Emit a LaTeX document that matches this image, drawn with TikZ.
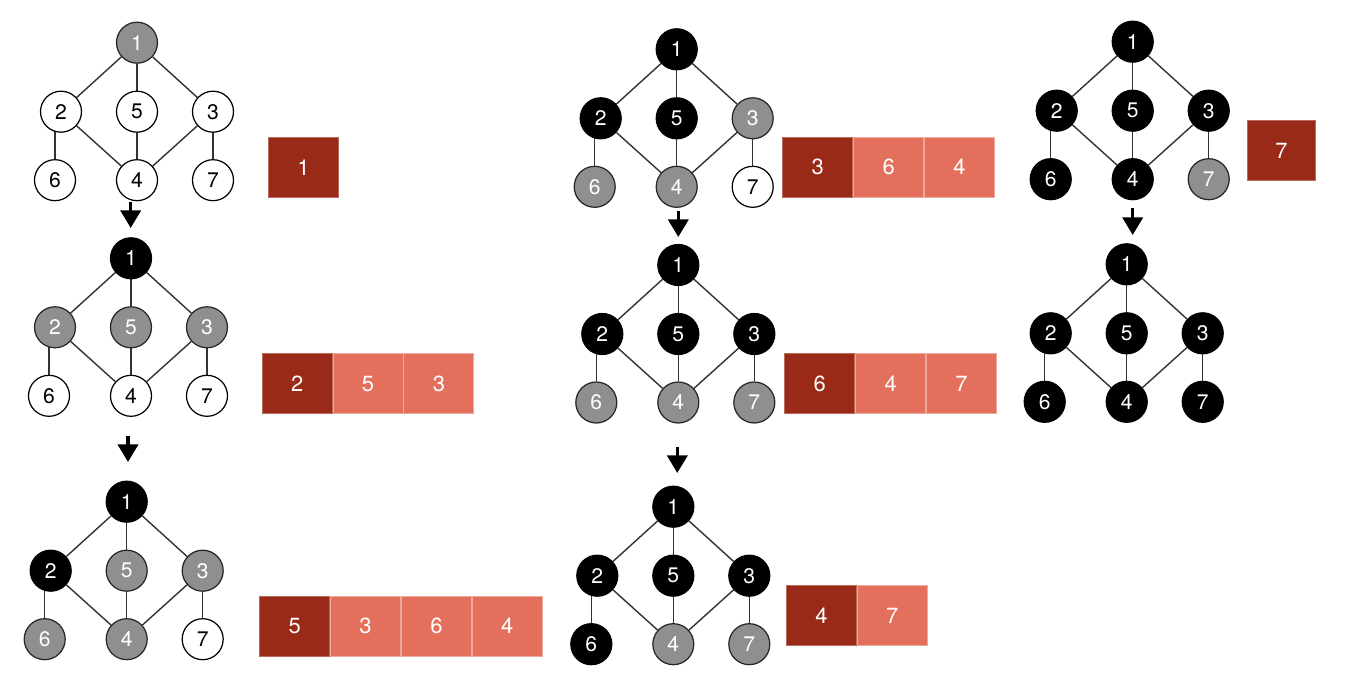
\documentclass[tikz,border=0pt]{standalone}
\usepackage{fontspec}
\setmainfont{TeX Gyre Heros}
\usetikzlibrary{arrows.meta,backgrounds}
\definecolor{qdark}{HTML}{9A2A18}
\definecolor{qlight}{HTML}{E2705C}
\definecolor{vgray}{HTML}{8F8F8F}
\definecolor{edgec}{HTML}{333333}
\tikzset{
  vtx/.style={circle, minimum size=0.82cm, inner sep=0pt, line width=0.7pt, font=\fontsize{12}{12}\selectfont},
  wn/.style={vtx, draw=black, fill=white, text=black},
  gn/.style={vtx, draw=black!85, fill=vgray, text=white},
  bn/.style={vtx, draw=black, fill=black, text=white},
  edge/.style={draw=edgec, line width=0.8pt},
  qbox/.style={rectangle, minimum width=1.4cm, minimum height=1.2cm, inner sep=0pt, line width=0.5pt, text=white, font=\fontsize{12.5}{12.5}\selectfont},
  qd/.style={qbox, fill=qdark, draw=qdark!70!white},
  ql/.style={qbox, fill=qlight, draw=qlight!60!white},
  arr/.style={line width=2pt, -{Triangle[width=11.4pt,length=10pt]}}
}
\newcommand\drawgraph[9]{%
  \begin{scope}[shift={#2}]
    \node[#3] (#1-1) at (0,0) {1};
    \node[#4] (#1-2) at (-76,69) {2};
    \node[#5] (#1-3) at (76,69) {3};
    \node[#6] (#1-4) at (0,137.5) {4};
    \node[#7] (#1-5) at (0,69) {5};
    \node[#8] (#1-6) at (-82,137.5) {6};
    \node[#9] (#1-7) at (76,137.5) {7};
    \begin{pgfonlayer}{background}
      \draw[edge] (#1-1) -- (#1-2);
      \draw[edge] (#1-1) -- (#1-5);
      \draw[edge] (#1-1) -- (#1-3);
      \draw[edge] (#1-2) -- (#1-4);
      \draw[edge] (#1-5) -- (#1-4);
      \draw[edge] (#1-3) -- (#1-4);
      \draw[edge] (#1-6.north) -- (#1-6.north |- #1-2.center);
      \draw[edge] (#1-7.north) -- (#1-7.north |- #1-3.center);
    \end{pgfonlayer}
  \end{scope}}
\begin{document}
\begin{tikzpicture}[x=0.02cm,y=-0.02cm]
\useasboundingbox (0,0) rectangle (1354,688);
% left column
\drawgraph{g1}{(137,42.7)}{gn}{wn}{wn}{wn}{wn}{wn}{wn}
\drawgraph{g2}{(131,258.3)}{bn}{gn}{gn}{wn}{gn}{wn}{wn}
\drawgraph{g3}{(126.7,501.7)}{bn}{bn}{gn}{gn}{gn}{gn}{wn}
% middle column
\drawgraph{ga}{(676.7,49.3)}{bn}{bn}{gn}{gn}{bn}{gn}{wn}
\drawgraph{gb}{(678.3,265)}{bn}{bn}{bn}{gn}{bn}{gn}{gn}
\drawgraph{gc}{(673.3,506.7)}{bn}{bn}{bn}{gn}{bn}{bn}{gn}
% right column
\drawgraph{gr}{(1132.7,41.7)}{bn}{bn}{bn}{bn}{bn}{bn}{gn}
\drawgraph{gs}{(1126.7,264.3)}{bn}{bn}{bn}{bn}{bn}{bn}{bn}
% queues
\node[qd, anchor=north west] (q1a) at (268,137) {1};
\node[qd, anchor=north west] (q2a) at (261.7,353.3) {2};
\node[ql, anchor=west] (q2b) at (q2a.east) {5};
\node[ql, anchor=west] (q2c) at (q2b.east) {3};
\node[qd, anchor=north west] (q3a) at (259.3,595.7) {5};
\node[ql, anchor=west] (q3b) at (q3a.east) {3};
\node[ql, anchor=west] (q3c) at (q3b.east) {6};
\node[ql, anchor=west] (q3d) at (q3c.east) {4};
\node[qd, anchor=north west] (qaa) at (782.3,136.7) {3};
\node[ql, anchor=west] (qab) at (qaa.east) {6};
\node[ql, anchor=west] (qac) at (qab.east) {4};
\node[qd, anchor=north west] (qba) at (784.3,353.3) {6};
\node[ql, anchor=west] (qbb) at (qba.east) {4};
\node[ql, anchor=west] (qbc) at (qbb.east) {7};
\node[qd, anchor=north west] (qca) at (786,585) {4};
\node[ql, anchor=west] (qcb) at (qca.east) {7};
\node[qd, anchor=north west, minimum width=1.37cm] (qra) at (1246.7,120) {7};
% arrows
\coordinate (a1s) at (130.7,202); \coordinate (a1e) at (130.7,228);
\coordinate (a2s) at (128,436);   \coordinate (a2e) at (128,462);
\coordinate (a3s) at (678.3,211); \coordinate (a3e) at (678.3,237);
\coordinate (a4s) at (677.3,447); \coordinate (a4e) at (677.3,473);
\coordinate (a5s) at (1132.7,208); \coordinate (a5e) at (1132.7,235);
\draw[arr] (a1s) -- (a1e);
\draw[arr] (a2s) -- (a2e);
\draw[arr] (a3s) -- (a3e);
\draw[arr] (a4s) -- (a4e);
\draw[arr] (a5s) -- (a5e);
\end{tikzpicture}
\end{document}
